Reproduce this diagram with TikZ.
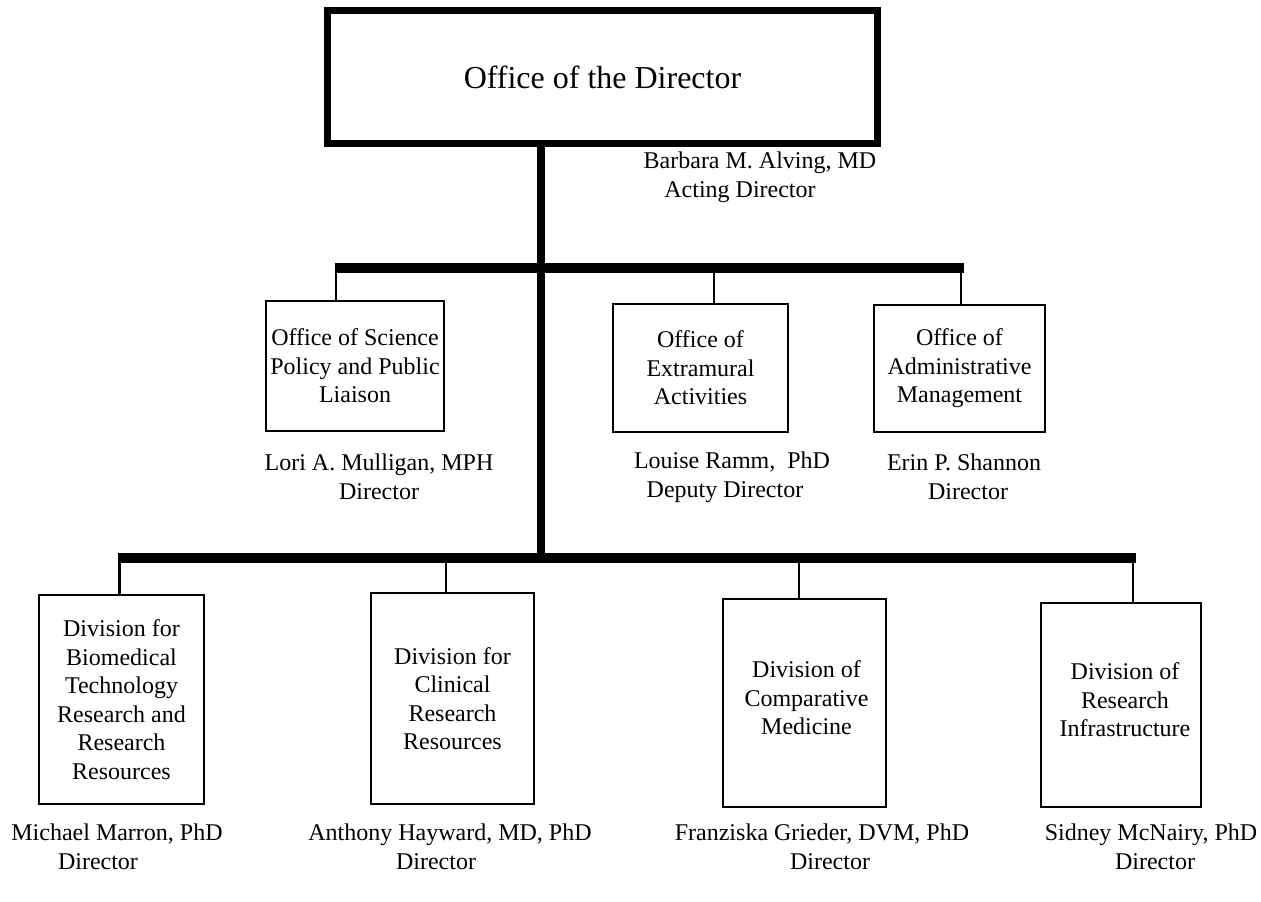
\documentclass[tikz,border=0pt]{standalone}
\usepackage{fontspec}
\setmainfont{Liberation Serif}
\begin{document}
\begin{tikzpicture}[x=1pt,y=-1pt,
  unitbox/.style={draw, line width=2pt, inner sep=0pt, outer sep=0pt, align=center,
    font=\fontsize{24}{28.5}\selectfont, anchor=north west},
  boxtext/.style={align=center, inner sep=0pt, font=\fontsize{24}{28.5}\selectfont},
  topbox/.style={draw, line width=7pt, inner sep=0pt, outer sep=0pt, align=center,
    font=\fontsize{32}{38}\selectfont, anchor=north west},
  person/.style={align=center, font=\fontsize{24}{29}\selectfont, inner sep=0pt},
  bar/.style={line width=10.5pt},
  trunk/.style={line width=8pt},
  drop/.style={line width=2.5pt}]
\useasboundingbox (0,0) rectangle (1261,902);

% boxes
\node[topbox, minimum width=550pt, minimum height=133pt] (dir) at (327.5,10.5) {Office of the Director};

\node[unitbox, minimum width=178pt, minimum height=130pt] (sci) at (266,301)
  {Office of Science\\Policy and Public\\Liaison};
\node[unitbox, minimum width=175pt, minimum height=128pt] (ext) at (613,304)
  {Office of\\Extramural\\Activities};
\node[unitbox, minimum width=171pt, minimum height=127pt] (adm) at (874,305)
  {Office of\\Administrative\\Management};

\node[unitbox, minimum width=165pt, minimum height=209pt] (bio) at (39,595)
  {Division for\\Biomedical\\Technology\\Research and\\Research\\Resources};
\node[unitbox, minimum width=163pt, minimum height=211pt] (cli) at (371,593)
  {Division for\\Clinical\\Research\\Resources};
\node[unitbox, minimum width=163pt, minimum height=208pt,
  label={[boxtext, xshift=2pt, yshift=5pt]center:Division of\\Comparative\\Medicine}] (cmp) at (723,599) {};
\node[unitbox, minimum width=160pt, minimum height=204pt,
  label={[boxtext, xshift=4pt, yshift=5pt]center:Division of\\Research\\Infrastructure}] (inf) at (1041,603) {};

% people
\node[person] (alving) at (760,177) {Barbara M. Alving, MD\\\hspace*{0pt}Acting Director\hspace*{40pt}};
\node[person] (mulligan) at (379,477) {Lori A. Mulligan, MPH\\Director};
\node[person] (ramm) at (732,477) {Louise Ramm,\ \ PhD\\Deputy Director\hspace*{14pt}};
\node[person] (shannon) at (964,477) {Erin P. Shannon\\\hspace*{8pt}Director};
\node[person] (marron) at (117,847) {Michael Marron, PhD\\Director\hspace*{38pt}};
\node[person] (hayward) at (450,847) {Anthony Hayward, MD, PhD\\Director\hspace*{28pt}};
\node[person] (grieder) at (822,847) {Franziska Grieder, DVM, PhD\\\hspace*{16pt}Director};
\node[person] (mcnairy) at (1151,847) {Sidney McNairy, PhD\\\hspace*{8pt}Director};

% connector points
\coordinate (uL) at (335,268);
\coordinate (uR) at (964,268);
\coordinate (d1) at (336,268);
\coordinate (d2) at (714,268);
\coordinate (d3) at (961,268);
\coordinate (lL) at (118,558);
\coordinate (lR) at (1136,558);
\coordinate (tk) at (541,558);
\coordinate (e1) at (119.5,558);
\coordinate (e2) at (446,558);
\coordinate (e3) at (799,558);
\coordinate (e4) at (1133,558);

% connectors
\draw[trunk] (dir.south -| tk) -- (tk);
\draw[bar] (uL) -- (uR);
\draw[bar] (lL) -- (lR);
\draw[drop] (d1) -- (d1 |- sci.north);
\draw[drop] (d2) -- (d2 |- ext.north);
\draw[drop] (d3) -- (d3 |- adm.north);
\draw[drop] (e1) -- (e1 |- bio.north);
\draw[drop] (e2) -- (e2 |- cli.north);
\draw[drop] (e3) -- (e3 |- cmp.north);
\draw[drop] (e4) -- (e4 |- inf.north);
\end{tikzpicture}
\end{document}
